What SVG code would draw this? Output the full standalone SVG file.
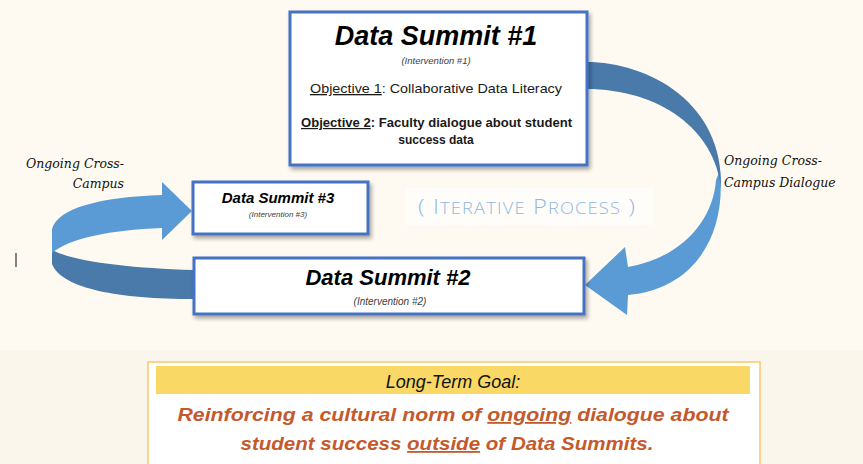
<svg xmlns="http://www.w3.org/2000/svg" width="863" height="464" viewBox="0 0 863 464">
<defs>
<style>
.box{fill:#ffffff;stroke:#4472c4;stroke-width:3}
.title{font-family:"Liberation Sans",Arial,sans-serif;font-weight:bold;font-style:italic;fill:#000;text-anchor:middle}
.sub{font-family:"Liberation Sans",Arial,sans-serif;font-style:italic;fill:#404040;text-anchor:middle}
.obj{font-family:"Liberation Sans",Arial,sans-serif;fill:#1a1a1a}
.hand{font-family:"DejaVu Serif","Liberation Serif",serif;font-style:italic;font-size:12.5px;fill:#111}
.goal{font-family:"Liberation Sans",Arial,sans-serif;font-weight:bold;font-style:italic;font-size:18px;fill:#c4592b;text-anchor:middle}
.u{text-decoration:underline}
</style>
<filter id="sh" x="-10%" y="-10%" width="130%" height="140%">
<feGaussianBlur in="SourceAlpha" stdDeviation="2"/>
<feOffset dx="2" dy="3" result="b"/>
<feComponentTransfer><feFuncA type="linear" slope="0.35"/></feComponentTransfer>
<feMerge><feMergeNode/><feMergeNode in="SourceGraphic"/></feMerge>
</filter>
</defs>
<rect x="0" y="0" width="863" height="350" fill="#fefaf1"/>
<rect x="0" y="350" width="863" height="114" fill="#faf6eb"/>

<g id="connectors">
<!-- right arrow: summit 1 to summit 2 -->
<path d="M720,170 C727,240 690,290 628,295 L627,315 L585,285 L625,247 L628,267 C680,258 713,222 716,180 Z" fill="#5b9bd5"/>
<path d="M586,62 C650,62 724,104 721,188 C715,130 660,89 586,89 Z" fill="#4a7aaa"/>
<!-- left arrow: summit 2 to summit 3 -->
<path d="M52,250 L52,264 C62,289 120,299 193,299 L193,270 C130,268 75,262 52,250 Z" fill="#4a7aaa"/>
<path d="M52,253 L52,229 C58,208 100,197 162,195 L162,182 L192,211 L162,240 L162,228 C110,230 70,238 52,253 Z" fill="#5b9bd5"/>
</g>

<g id="summit1">
<rect class="box" x="290" y="12" width="297" height="153" filter="url(#sh)"/>
<text class="title" x="436" y="45" font-size="27">Data Summit #1</text>
<text class="sub" x="436" y="64" font-size="9.5">(Intervention #1)</text>
<text class="obj" x="310" y="93" font-size="13" textLength="252" lengthAdjust="spacingAndGlyphs"><tspan class="u">Objective 1</tspan>: Collaborative Data Literacy</text>
<text class="obj" x="301" y="127" font-size="12" font-weight="bold" textLength="271" lengthAdjust="spacingAndGlyphs"><tspan class="u">Objective 2</tspan>: Faculty dialogue about student</text>
<text class="obj" x="436" y="144" font-size="12" font-weight="bold" text-anchor="middle">success data</text>
</g>

<g id="summit3">
<rect class="box" x="193" y="182" width="175" height="52" filter="url(#sh)"/>
<text class="title" x="278" y="203" font-size="15">Data Summit #3</text>
<text class="sub" x="278" y="217" font-size="8">(Intervention #3)</text>
</g>

<g id="summit2">
<rect class="box" x="194" y="258" width="390" height="56" filter="url(#sh)"/>
<text class="title" x="388" y="285" font-size="22">Data Summit #2</text>
<text class="sub" x="390" y="305" font-size="10">(Intervention #2)</text>
</g>

<g id="iterative">
<rect x="405" y="188" width="248" height="37" fill="#ffffff" opacity="0.6"/>
<text x="527" y="214" text-anchor="middle" font-family="'Open Sans','Liberation Sans',sans-serif" font-weight="300" fill="#8fb9e2" font-size="20" letter-spacing="1" textLength="218" lengthAdjust="spacingAndGlyphs">( I<tspan font-size="15.5">TERATIVE</tspan> P<tspan font-size="15.5">ROCESS</tspan> )</text>
</g>

<g id="labels">
<text class="hand" x="124" y="168" text-anchor="end">Ongoing Cross-</text>
<text class="hand" x="124" y="188" text-anchor="end">Campus</text>
<text class="hand" x="724" y="165">Ongoing Cross-</text>
<text class="hand" x="724" y="187">Campus Dialogue</text>
<line x1="16" y1="253" x2="16" y2="267" stroke="#333" stroke-width="1.2"/>
</g>

<g id="goal">
<rect x="148" y="362" width="612" height="110" fill="#ffffff" stroke="#f8c76a" stroke-width="1.5"/>
<rect x="156" y="366" width="594" height="28" fill="#f9d866"/>
<text x="453" y="388" text-anchor="middle" font-family="'Liberation Sans',Arial,sans-serif" font-style="italic" font-size="18" fill="#111">Long-Term Goal:</text>
<text class="goal" x="453" y="421" textLength="551" lengthAdjust="spacingAndGlyphs">Reinforcing a cultural norm of <tspan class="u">ongoing</tspan> dialogue about</text>
<text class="goal" x="447" y="450" textLength="413" lengthAdjust="spacingAndGlyphs">student success <tspan class="u">outside</tspan> of Data Summits.</text>
</g>
</svg>
